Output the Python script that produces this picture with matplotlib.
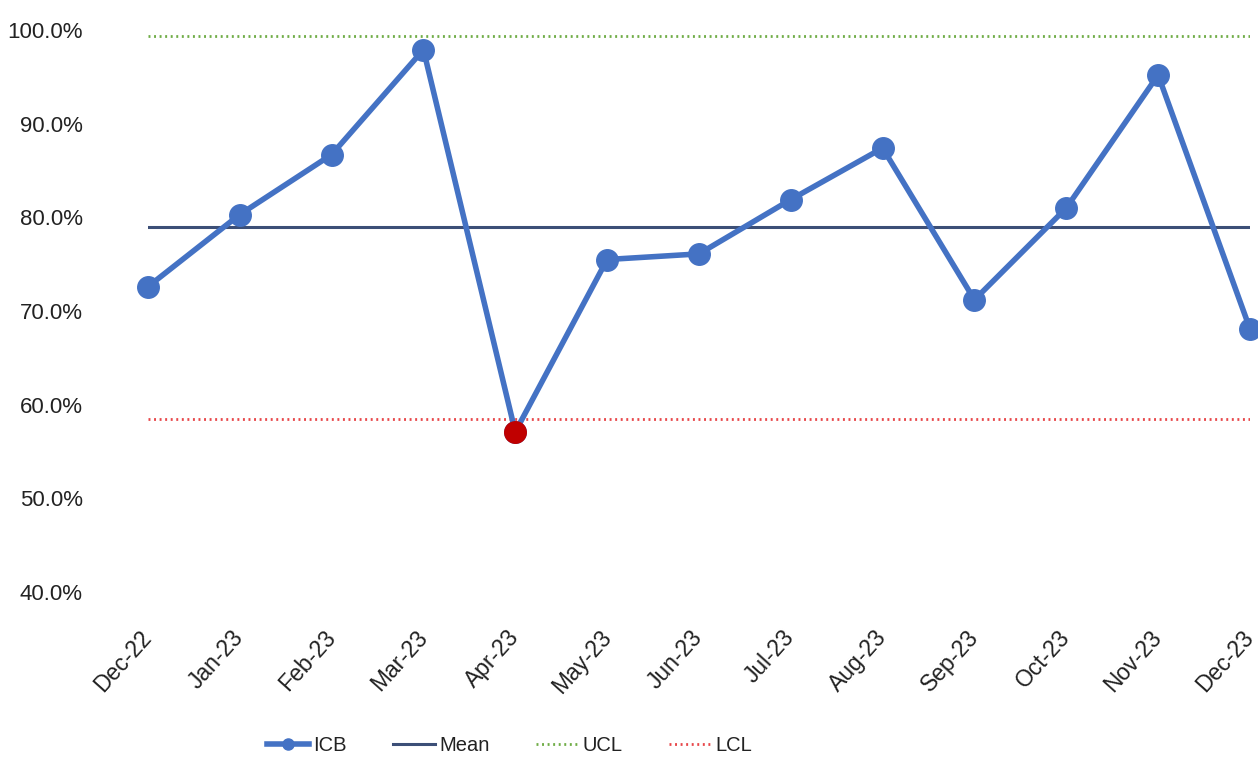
import matplotlib
matplotlib.use('Agg')
import matplotlib.pyplot as plt
from matplotlib.ticker import FuncFormatter

plt.rcParams['font.family'] = ['Liberation Sans', 'DejaVu Sans']

months = ['Dec-22', 'Jan-23', 'Feb-23', 'Mar-23', 'Apr-23', 'May-23', 'Jun-23',
          'Jul-23', 'Aug-23', 'Sep-23', 'Oct-23', 'Nov-23', 'Dec-23']
icb = [72.6, 80.3, 86.7, 97.9, 57.1, 75.5, 76.1, 81.9, 87.4, 71.2, 81.0, 95.2, 68.1]
mean = [79.0] * len(months)
ucl = [99.4] * len(months)
lcl = [58.5] * len(months)
flagged = ['Apr-23']  # below LCL

x = list(range(len(months)))

fig = plt.figure(figsize=(12.58, 7.6), dpi=100)
ax = fig.add_axes([0.1176, 0.221, 0.8760, 0.7395])

ax.plot(x, ucl, color='#70AD47', lw=2, linestyle=(0, (0.7, 1.3)), label='UCL', zorder=1)
ax.plot(x, lcl, color='#E8474A', lw=2, linestyle=(0, (0.7, 1.3)), label='LCL', zorder=1)
ax.plot(x, mean, color='#3C4F77', lw=2.2, label='Mean', zorder=2)
ax.plot(x, icb, color='#4472C4', lw=4, marker='o', markersize=15.5,
        label='ICB', zorder=3, clip_on=False)

# special cause point
fx = [months.index(m) for m in flagged]
fy = [icb[i] for i in fx]
ax.plot(fx, fy, 'o', color='#C00000', markersize=15.5, zorder=4, clip_on=False)

ax.set_xlim(0, len(months) - 1)
ax.set_ylim(40, 100)
ax.set_yticks(range(40, 101, 10))
ax.yaxis.set_major_formatter(FuncFormatter(lambda v, p: '%.1f%%' % v))
ax.set_xticks(x)
ax.set_xticklabels(months, rotation=48, ha='right', va='center', rotation_mode='anchor')
ax.tick_params(axis='y', length=0, pad=47, labelsize=16, labelcolor='#222222')
ax.tick_params(axis='x', length=0, pad=30, labelsize=16.5, labelcolor='#222222')
for s in ax.spines.values():
    s.set_visible(False)

h, l = ax.get_legend_handles_labels()
order = [3, 2, 0, 1]
leg = fig.legend([h[i] for i in order], [l[i] for i in order], loc='center',
                 bbox_to_anchor=(0.405, 0.019), ncol=4, frameon=False, fontsize=14.5,
                 handlelength=2.1, handletextpad=0.2, columnspacing=2.3)
for t in leg.get_texts():
    t.set_color('#222222')
leg.legend_handles[0].set_markersize(8)

fig.savefig('out.png', dpi=100)
